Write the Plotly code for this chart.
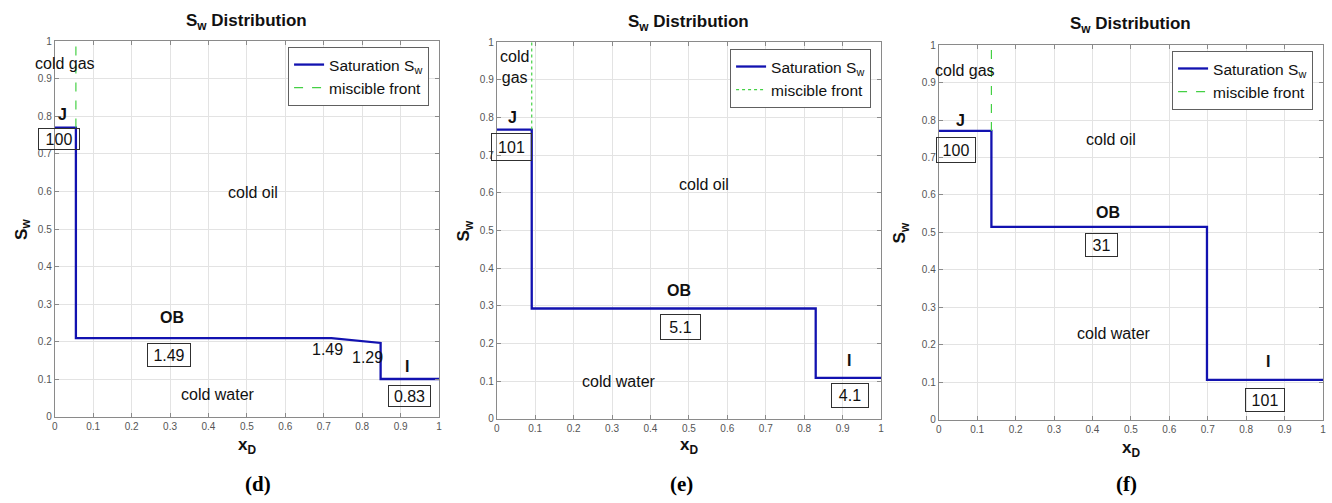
import plotly.graph_objects as go

# ---- data -------------------------------------------------------------
panel_tags = ["(d)", "(e)", "(f)"]

# water-saturation profiles S_w(x_D)
x_d = [0.0, 0.055, 0.055, 0.72, 0.848, 0.848, 1.0]
sw_d = [0.770, 0.770, 0.210, 0.210, 0.197, 0.101, 0.101]

x_e = [0.0, 0.091, 0.091, 0.830, 0.830, 1.0]
sw_e = [0.768, 0.768, 0.293, 0.293, 0.109, 0.109]

x_f = [0.0, 0.137, 0.137, 0.698, 0.698, 1.0]
sw_f = [0.771, 0.771, 0.515, 0.515, 0.107, 0.107]

# miscible front position and its dash style
front_x = [0.055, 0.091, 0.137]
front_top = [1.0, 1.0, 1.0]
front_dash = ["dash", "dot", "dash"]

# boxed values at J, OB and I
box_vals_d = ["100", "1.49", "0.83"]
box_vals_e = ["101", "5.1", "4.1"]
box_vals_f = ["100", "31", "101"]

# unboxed values near the slanted OB segment in (d)
slope_vals_d = ["1.49", "1.29"]

ticks = [0, 0.1, 0.2, 0.3, 0.4, 0.5, 0.6, 0.7, 0.8, 0.9, 1]
tick_text = ["0", "0.1", "0.2", "0.3", "0.4", "0.5", "0.6", "0.7", "0.8", "0.9", "1"]

# ---- layout helpers ----------------------------------------------------
W, H = 1332, 503
SANS = "Liberation Sans, Arial, sans-serif"
SERIF = "Liberation Serif, Times New Roman, serif"
BLUE = "#1212b0"
GREEN = "#44d044"

# plot rectangles in pixels: left, right, top, bottom
rects = [(52, 438, 36, 421), (496, 882, 37, 423), (940, 1326, 40, 424)]
legend_pos = [(428, 42), (872, 44), (1316, 46)]
title_pos = [(245, 16), (689, 17), (1133, 19)]
xlab_y = [451, 451, 454]
ylab_x = [20, 464, 903]
tag_pos = [(256, 490), (682, 490), (1129, 490)]

profiles = [(x_d, sw_d), (x_e, sw_e), (x_f, sw_f)]
box_vals = [box_vals_d, box_vals_e, box_vals_f]

# positions (data coords) and box sizes (px) for the boxed values
box_layout = [
    [(0.012, 0.740, 40, 20), (0.297, 0.164, 42, 22), (0.923, 0.056, 41, 20)],
    [(0.039, 0.722, 39, 26), (0.478, 0.244, 39, 24), (0.918, 0.061, 36, 23)],
    [(0.045, 0.719, 38, 24), (0.423, 0.467, 31, 22), (0.849, 0.052, 38, 22)],
]
# bold point labels J, OB, I
pt_layout = [
    [(0.020, 0.805), (0.306, 0.265), (0.916, 0.135)],
    [(0.040, 0.800), (0.474, 0.342), (0.916, 0.156)],
    [(0.057, 0.800), (0.440, 0.552), (0.858, 0.156)],
]
pt_names = ["J", "OB", "I"]
# region labels: cold gas, cold oil, cold water
region_layout = [
    [(0.026, 0.940, "cold gas"), (0.517, 0.598, "cold oil"), (0.425, 0.059, "cold water")],
    [(0.045, 0.934, "cold<br>gas"), (0.539, 0.623, "cold oil"), (0.319, 0.100, "cold water")],
    [(0.068, 0.932, "cold gas"), (0.448, 0.748, "cold oil"), (0.457, 0.230, "cold water")],
]
slope_layout_d = [(0.709, 0.179), (0.813, 0.158)]

fig = go.Figure()
annotations = []

for i in range(3):
    l, r, t, b = rects[i]
    sfx = "" if i == 0 else str(i + 1)
    xa, ya = "x" + sfx, "y" + sfx
    leg = "legend" if i == 0 else "legend" + str(i + 1)
    xs, ys = profiles[i]

    fig.add_trace(go.Scatter(
        x=xs, y=ys, mode="lines", name="Saturation S<sub>w</sub>",
        line=dict(color=BLUE, width=2.3), xaxis=xa, yaxis=ya, legend=leg,
        hoverinfo="skip"))
    fig.add_trace(go.Scatter(
        x=[front_x[i], front_x[i]], y=[ys[0], front_top[i]], mode="lines",
        name="miscible front",
        line=dict(color=GREEN, width=1.2, dash=front_dash[i]),
        xaxis=xa, yaxis=ya, legend=leg, hoverinfo="skip"))

    axis_common = dict(
        range=[0, 1], tickvals=ticks, ticktext=tick_text,
        showgrid=True, gridcolor="#e3e3e3", gridwidth=1,
        zeroline=False, showline=True, linecolor="#8a8a8a", linewidth=1,
        mirror="allticks", ticks="inside", ticklen=4, tickcolor="#8a8a8a",
        tickfont=dict(family=SANS, size=10, color="#555555"),
        fixedrange=True,
    )
    fig.update_layout({
        "xaxis" + sfx: dict(axis_common, domain=[l / W, r / W], anchor=ya),
        "yaxis" + sfx: dict(axis_common, domain=[1 - b / H, 1 - t / H], anchor=xa),
        leg: dict(
            x=legend_pos[i][0] / W, y=1 - legend_pos[i][1] / H,
            xanchor="right", yanchor="top", xref="paper", yref="paper",
            bgcolor="white", bordercolor="#606060", borderwidth=1,
            font=dict(family=SANS, size=15.5, color="#111111"),
            tracegroupgap=0,
        ),
    })

    # panel title, axis titles, panel tag
    annotations.append(dict(
        text="<b>S<sub>w</sub> Distribution</b>", x=title_pos[i][0] / W, y=1 - title_pos[i][1] / H,
        xref="paper", yref="paper", showarrow=False,
        font=dict(family=SANS, size=17, color="#111111"), xanchor="center", yanchor="middle"))
    annotations.append(dict(
        text="<b>x<sub>D</sub></b>", x=(l + r) / 2 / W, y=1 - xlab_y[i] / H,
        xref="paper", yref="paper", showarrow=False,
        font=dict(family=SANS, size=17, color="#111111"), xanchor="center", yanchor="middle"))
    annotations.append(dict(
        text="<b>S<sub>w</sub></b>", x=ylab_x[i] / W, y=1 - (t + b) / 2 / H,
        xref="paper", yref="paper", showarrow=False, textangle=-90,
        font=dict(family=SANS, size=17, color="#111111"), xanchor="center", yanchor="middle"))
    annotations.append(dict(
        text="<b>" + panel_tags[i] + "</b>", x=tag_pos[i][0] / W, y=1 - tag_pos[i][1] / H,
        xref="paper", yref="paper", showarrow=False,
        font=dict(family=SERIF, size=21, color="#000000"), xanchor="center", yanchor="middle"))

    # boxed values
    for (bx, by, bw, bh), val in zip(box_layout[i], box_vals[i]):
        annotations.append(dict(
            text=val, x=bx, y=by, xref=xa, yref=ya, showarrow=False,
            width=bw, height=bh, bordercolor="#303030", borderwidth=1, borderpad=0,
            font=dict(family=SANS, size=16, color="#111111"),
            xanchor="center", yanchor="middle", align="center", valign="middle"))
    # J / OB / I
    for (px, py), name in zip(pt_layout[i], pt_names):
        annotations.append(dict(
            text="<b>" + name + "</b>", x=px, y=py, xref=xa, yref=ya, showarrow=False,
            font=dict(family=SANS, size=16, color="#111111"),
            xanchor="center", yanchor="middle"))
    # region names
    for rx, ry, name in region_layout[i]:
        annotations.append(dict(
            text=name, x=rx, y=ry, xref=xa, yref=ya, showarrow=False,
            font=dict(family=SANS, size=16, color="#111111"),
            xanchor="center", yanchor="middle"))

for (sx, sy), val in zip(slope_layout_d, slope_vals_d):
    annotations.append(dict(
        text=val, x=sx, y=sy, xref="x", yref="y", showarrow=False,
        font=dict(family=SANS, size=16, color="#111111"),
        xanchor="center", yanchor="middle"))

fig.update_layout(
    width=W, height=H, margin=dict(l=0, r=0, t=0, b=0),
    paper_bgcolor="white", plot_bgcolor="white",
    annotations=annotations, showlegend=True,
)

fig.write_html("out.html")
